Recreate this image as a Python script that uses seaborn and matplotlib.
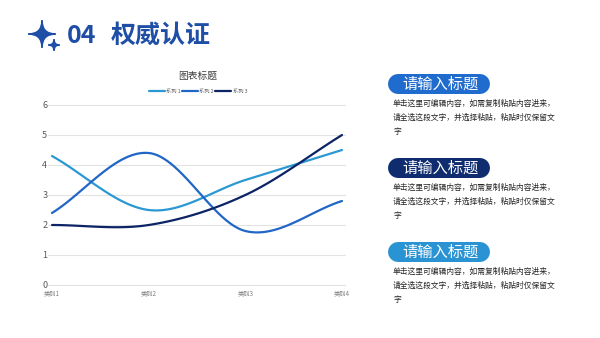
import numpy as np
import pandas as pd
import matplotlib
matplotlib.use("Agg")
import matplotlib.pyplot as plt
from matplotlib.path import Path
from matplotlib.patches import PathPatch
import seaborn as sns

categories = ["类别1", "类别2", "类别3", "类别4"]
series_names = ["系列 1", "系列 2", "系列 3"]
series_1 = [4.3, 2.5, 3.5, 4.5]
series_2 = [2.4, 4.4, 1.8, 2.8]
series_3 = [2.0, 2.0, 3.0, 5.0]
y_ticks = [0, 1, 2, 3, 4, 5, 6]
chart_title = "图表标题"
page_title = "权威认证"
page_number = "04"
card_title = "请输入标题"
card_lines = ["单击这里可编辑内容，如需复制粘贴内容进来，",
              "请全选这段文字，并选择粘贴，粘贴时仅保留文",
              "字"]

colors = ["#2B98D3", "#1F66C6", "#0C2466"]
card_colors = ["#1F6BCE", "#0E2C6E", "#2A93D4"]
title_blue = "#1E4EA6"

sns.set_theme(style="white")
plt.rcParams["font.family"] = ["Noto Sans CJK SC", "DejaVu Sans"]

W, H = 600, 338
fig = plt.figure(figsize=(6, 3.38), dpi=100)
fig.patch.set_facecolor("white")

# overlay in pixel units for the page decoration
deco = fig.add_axes([0, 0, 1, 1])
deco.set_xlim(0, W)
deco.set_ylim(H, 0)
deco.axis("off")
deco.set_zorder(0)


def smooth(values, steps=40):
    """Catmull-Rom curve through the points (x = category index)."""
    p = np.asarray(values, float)
    x = np.arange(len(p), dtype=float)
    pts = np.column_stack([x, p])
    ext = np.vstack([2 * pts[0] - pts[1], pts, 2 * pts[-1] - pts[-2]])
    out = []
    for i in range(1, len(ext) - 2):
        p0, p1, p2, p3 = ext[i - 1], ext[i], ext[i + 1], ext[i + 2]
        t = np.linspace(0, 1, steps, endpoint=(i == len(ext) - 3))[:, None]
        seg = 0.5 * ((2 * p1) + (-p0 + p2) * t
                     + (2 * p0 - 5 * p1 + 4 * p2 - p3) * t ** 2
                     + (-p0 + 3 * p1 - 3 * p2 + p3) * t ** 3)
        out.append(seg)
    return np.vstack(out)


frames = []
for name, vals in zip(series_names, [series_1, series_2, series_3]):
    c = smooth(vals)
    frames.append(pd.DataFrame({"x": c[:, 0], "y": c[:, 1], "series": name}))
df = pd.concat(frames, ignore_index=True)

# chart area
x0, x1 = 48, 346
ytop, ybot = 103, 287
ax = fig.add_axes([x0 / W, 1 - ybot / H, (x1 - x0) / W, (ybot - ytop) / H])
ax.set_zorder(1)
unit = (342 - 52) / 3
ax.set_xlim(-(52 - x0) / unit, 3 + (x1 - 342) / unit)
pad = 2 / 30
ax.set_ylim(-pad, 6 + pad)
for v in y_ticks:
    ax.axhline(v, color="#E3E3E3", lw=0.8, zorder=0)

sns.lineplot(data=df, x="x", y="y", hue="series", palette=colors,
             sort=False, estimator=None, units="series", lw=1.6, ax=ax,
             legend=False)

ax.set_yticks(y_ticks)
ax.set_yticklabels([str(v) for v in y_ticks], color="#595959", fontsize=6.5)
ax.set_xticks(range(len(categories)))
ax.set_xticklabels(categories, color="#808080", fontsize=4.5)
ax.tick_params(axis="both", length=0, pad=1.5)
ax.tick_params(axis="y", pad=0.5)
ax.set_xlabel("")
ax.set_ylabel("")
for s in ax.spines.values():
    s.set_visible(False)
ax.set_facecolor("none")

# chart title and legend
deco.text(198, 76, chart_title, ha="center", va="center",
          fontsize=7, color="#404040")
handles = [plt.Line2D([], [], color=c, lw=1.6) for c in colors]
fig.legend(handles, series_names, loc="center",
           bbox_to_anchor=(198 / W, 1 - 91 / H),
           ncol=3, frameon=False, fontsize=3.8, handlelength=3.0,
           handletextpad=0.3, columnspacing=0.2, labelcolor="#595959")


# header: sparkle stars, number and title
def sparkle(cx, cy, r):
    ctrl = [(cx, cy - r)]
    codes = [Path.MOVETO]
    tips = [(cx + r, cy), (cx, cy + r), (cx - r, cy), (cx, cy - r)]
    for tip in tips:
        ctrl.append((cx, cy))
        ctrl.append(tip)
        codes += [Path.CURVE3, Path.CURVE3]
    ctrl.append((cx, cy - r))
    codes.append(Path.CLOSEPOLY)
    return PathPatch(Path(ctrl, codes), facecolor=title_blue, edgecolor=title_blue,
                     lw=1.2, joinstyle="miter")


deco.add_patch(sparkle(42, 34, 13.5))
deco.add_patch(sparkle(54, 45, 5.5))
deco.text(67, 36, page_number, ha="left", va="center", fontsize=18,
          fontweight="bold", color=title_blue)
deco.text(111, 36, page_title, ha="left", va="center", fontsize=18,
          fontweight="bold", color=title_blue)

# text cards on the right: pill-shaped headers drawn as round-capped strokes
pill_h = 20
for i, col in enumerate(card_colors):
    top = 74 + i * 84
    deco.plot([388 + pill_h / 2, 490 - pill_h / 2], [top + pill_h / 2] * 2,
              color=col, lw=pill_h * 72 / 100, solid_capstyle="round")
    deco.text(441, top + 10.5, card_title, ha="center", va="center",
              fontsize=11, color="white")
    for j, line in enumerate(card_lines):
        deco.text(393, top + 30 + j * 14, line, ha="left",
                  va="center", fontsize=5.6, color="#262626")

fig.savefig("out.png", dpi=100, facecolor="white")
